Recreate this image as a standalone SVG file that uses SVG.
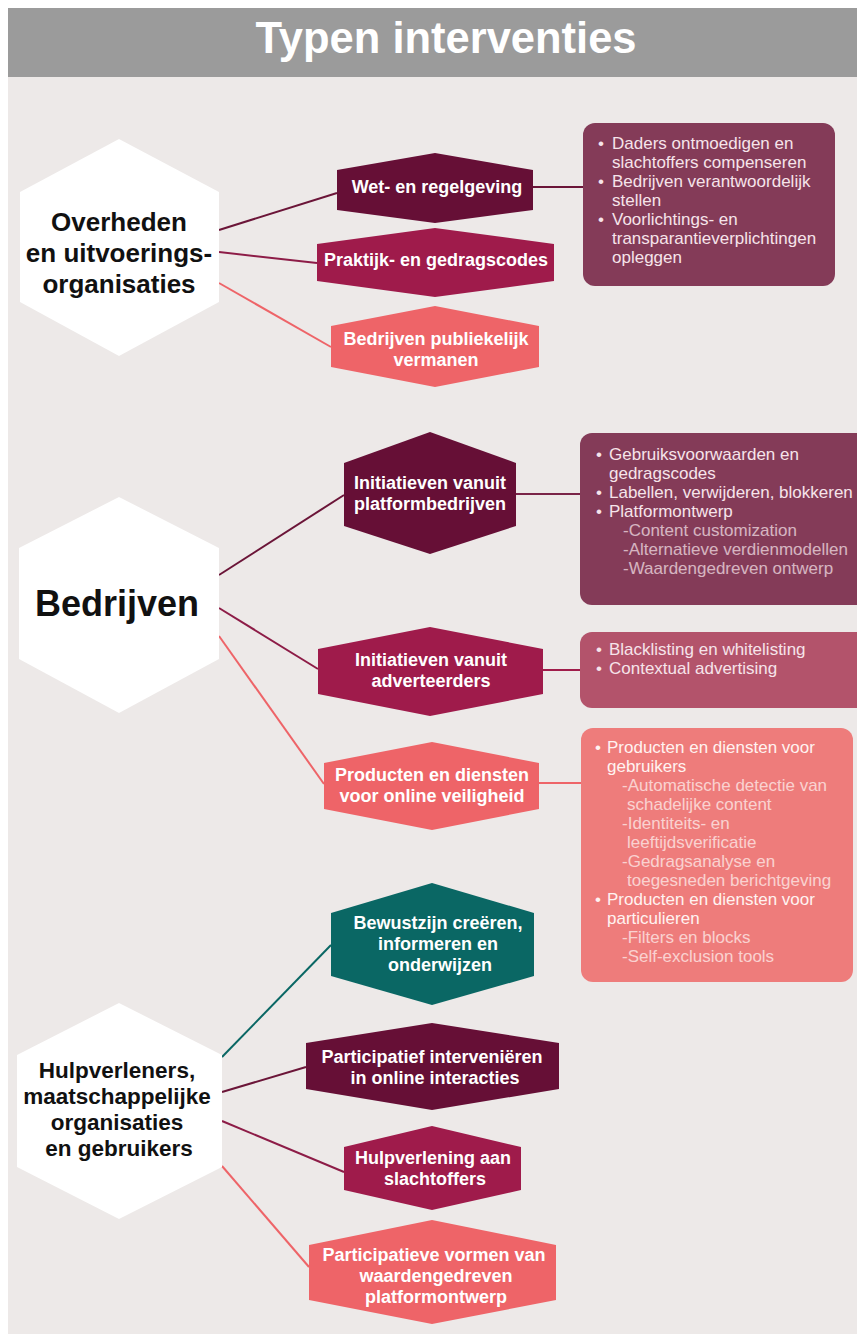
<svg xmlns="http://www.w3.org/2000/svg" width="857" height="1334" viewBox="0 0 857 1334">
<style>
.hexlbl{font-family:"Liberation Sans",Arial,sans-serif;font-weight:bold;fill:#111;text-anchor:middle}
.nlbl{font-family:"Liberation Sans",Arial,sans-serif;font-weight:bold;fill:#fff;font-size:18px;text-anchor:middle}
.btxt{font-family:"Liberation Sans",Arial,sans-serif;font-size:17px;fill:#f6e4ea}
.sub{opacity:0.72}
.c{fill:none;stroke-width:2}
.dark{fill:#660f36}.mid{fill:#9f1b4b}.sal{fill:#ee6468}.teal{fill:#0a6764}
</style>
<rect x="0" y="0" width="857" height="1334" fill="#ffffff"/>
<rect x="8" y="8" width="849" height="1326" fill="#ede9e8"/>
<rect x="8" y="8" width="849" height="69" fill="#9b9b9b"/>
<text x="446" y="53" font-family="Liberation Sans,Arial,sans-serif" font-weight="bold" font-size="43.5" fill="#fff" text-anchor="middle">Typen interventies</text>

<g id="connectors">
<line class="c" x1="219" y1="230" x2="337" y2="193" stroke="#6b1538"/>
<line class="c" x1="219" y1="252" x2="317" y2="263" stroke="#8d1c47"/>
<line class="c" x1="219" y1="283" x2="331" y2="347" stroke="#ee6468"/>
<line class="c" x1="533" y1="187" x2="584" y2="187" stroke="#6b1538"/>
<line class="c" x1="219" y1="575" x2="344" y2="495" stroke="#6b1538"/>
<line class="c" x1="219" y1="608" x2="318" y2="669" stroke="#8d1c47"/>
<line class="c" x1="219" y1="636" x2="324" y2="784" stroke="#ee6468"/>
<line class="c" x1="516" y1="494" x2="581" y2="494" stroke="#7a2448"/>
<line class="c" x1="543" y1="670" x2="581" y2="670" stroke="#a01c4a"/>
<line class="c" x1="539" y1="783" x2="582" y2="783" stroke="#ee6468"/>
<line class="c" x1="222" y1="1057" x2="331" y2="945" stroke="#0a6764"/>
<line class="c" x1="222" y1="1092" x2="306" y2="1067" stroke="#6b1538"/>
<line class="c" x1="222" y1="1121" x2="344" y2="1172" stroke="#8d1c47"/>
<line class="c" x1="222" y1="1166" x2="309" y2="1267" stroke="#ee6468"/>
</g>

<g id="hex-overheden">
<polygon points="119,139 219,192 219,302 119,356 20,302 20,192" fill="#fff"/>
<text class="hexlbl" font-size="26" x="119" y="231">Overheden</text>
<text class="hexlbl" font-size="26" x="119" y="262">en uitvoerings-</text>
<text class="hexlbl" font-size="26" x="119" y="293">organisaties</text>
</g>
<g id="hex-bedrijven">
<polygon points="119,497 219,548 219,659 119,713 19,659 19,548" fill="#fff"/>
<text class="hexlbl" font-size="36" x="117" y="616">Bedrijven</text>
</g>
<g id="hex-hulpverleners">
<polygon points="119,1003 222,1055 222,1167 119,1219 17,1167 17,1055" fill="#fff"/>
<text class="hexlbl" font-size="22.5" x="117" y="1078">Hulpverleners,</text>
<text class="hexlbl" font-size="22.5" x="117" y="1104">maatschappelijke</text>
<text class="hexlbl" font-size="22.5" x="117" y="1130">organisaties</text>
<text class="hexlbl" font-size="22.5" x="119" y="1156">en gebruikers</text>
</g>

<g id="n-wet">
<polygon class="dark" points="435,153 533,170 533,210 435,223 337,210 337,170"/>
<text class="nlbl" x="437" y="193">Wet- en regelgeving</text>
</g>
<g id="n-praktijk">
<polygon class="mid" points="435,228 554,244 554,281 435,297 317,281 317,244"/>
<text class="nlbl" x="436" y="266">Praktijk- en gedragscodes</text>
</g>
<g id="n-vermanen">
<polygon class="sal" points="435,306 539,326 539,367 435,387 331,367 331,326"/>
<text class="nlbl" x="436" y="345">Bedrijven publiekelijk</text>
<text class="nlbl" x="436" y="366">vermanen</text>
</g>
<g id="n-platform">
<polygon class="dark" points="430,432 516,463 516,526 430,554 344,526 344,463"/>
<text class="nlbl" x="430" y="489">Initiatieven vanuit</text>
<text class="nlbl" x="430" y="510">platformbedrijven</text>
</g>
<g id="n-adverteerders">
<polygon class="mid" points="430,627 543,649 543,694 430,716 318,694 318,649"/>
<text class="nlbl" x="431" y="666">Initiatieven vanuit</text>
<text class="nlbl" x="431" y="687">adverteerders</text>
</g>
<g id="n-veiligheid">
<polygon class="sal" points="432,742 539,763 539,809 432,830 324,809 324,763"/>
<text class="nlbl" x="432" y="781">Producten en diensten</text>
<text class="nlbl" x="432" y="802">voor online veiligheid</text>
</g>
<g id="n-bewustzijn">
<polygon class="teal" points="432,883 534,913 534,976 432,1005 331,976 331,913"/>
<text class="nlbl" x="438" y="929">Bewustzijn creëren,</text>
<text class="nlbl" x="438" y="950">informeren en</text>
<text class="nlbl" x="440" y="971">onderwijzen</text>
</g>
<g id="n-participatief">
<polygon class="dark" points="432,1023 559,1043 559,1089 432,1110 306,1089 306,1043"/>
<text class="nlbl" x="432" y="1063">Participatief interveniëren</text>
<text class="nlbl" x="435" y="1084">in online interacties</text>
</g>
<g id="n-hulpverlening">
<polygon class="mid" points="432,1126 521,1147 521,1190 432,1210 344,1190 344,1147"/>
<text class="nlbl" x="433" y="1164">Hulpverlening aan</text>
<text class="nlbl" x="435" y="1185">slachtoffers</text>
</g>
<g id="n-participatieve">
<polygon class="sal" points="432,1220 556,1245 556,1300 432,1324 309,1300 309,1245"/>
<text class="nlbl" x="434" y="1261">Participatieve vormen van</text>
<text class="nlbl" x="436" y="1282">waardengedreven</text>
<text class="nlbl" x="436" y="1303">platformontwerp</text>
</g>

<g id="box-overheden">
<rect x="583" y="123" width="252" height="163" rx="12" fill="#843b58"/>
<g class="btxt">
<text x="598" y="149">•</text><text x="612" y="149">Daders ontmoedigen en</text>
<text x="612" y="168">slachtoffers compenseren</text>
<text x="598" y="187">•</text><text x="612" y="187">Bedrijven verantwoordelijk</text>
<text x="612" y="206">stellen</text>
<text x="598" y="225">•</text><text x="612" y="225">Voorlichtings- en</text>
<text x="612" y="244">transparantieverplichtingen</text>
<text x="612" y="263">opleggen</text>
</g>
</g>
<g id="box-platform">
<rect x="580" y="433" width="290" height="172" rx="12" fill="#843b58"/>
<g class="btxt">
<text x="596" y="460">•</text><text x="609" y="460">Gebruiksvoorwaarden en</text>
<text x="609" y="479">gedragscodes</text>
<text x="596" y="498">•</text><text x="609" y="498">Labellen, verwijderen, blokkeren</text>
<text x="596" y="517">•</text><text x="609" y="517">Platformontwerp</text>
<text class="sub" x="623" y="536">-Content customization</text>
<text class="sub" x="623" y="555">-Alternatieve verdienmodellen</text>
<text class="sub" x="623" y="574">-Waardengedreven ontwerp</text>
</g>
</g>
<g id="box-adverteerders">
<rect x="580" y="632" width="290" height="76" rx="12" fill="#b3536b"/>
<g class="btxt">
<text x="596" y="655">•</text><text x="609" y="655">Blacklisting en whitelisting</text>
<text x="596" y="674">•</text><text x="609" y="674">Contextual advertising</text>
</g>
</g>
<g id="box-veiligheid">
<rect x="581" y="728" width="272" height="254" rx="12" fill="#ee7c7b"/>
<g class="btxt" style="fill:#fff3f1">
<text x="595" y="753">•</text><text x="607" y="753">Producten en diensten voor</text>
<text x="607" y="772">gebruikers</text>
<text class="sub" x="622" y="791">-Automatische detectie van</text>
<text class="sub" x="627" y="810">schadelijke content</text>
<text class="sub" x="622" y="829">-Identiteits- en</text>
<text class="sub" x="627" y="848">leeftijdsverificatie</text>
<text class="sub" x="622" y="867">-Gedragsanalyse en</text>
<text class="sub" x="627" y="886">toegesneden berichtgeving</text>
<text x="595" y="905">•</text><text x="607" y="905">Producten en diensten voor</text>
<text x="607" y="924">particulieren</text>
<text class="sub" x="622" y="943">-Filters en blocks</text>
<text class="sub" x="622" y="962">-Self-exclusion tools</text>
</g>
</g>
</svg>
